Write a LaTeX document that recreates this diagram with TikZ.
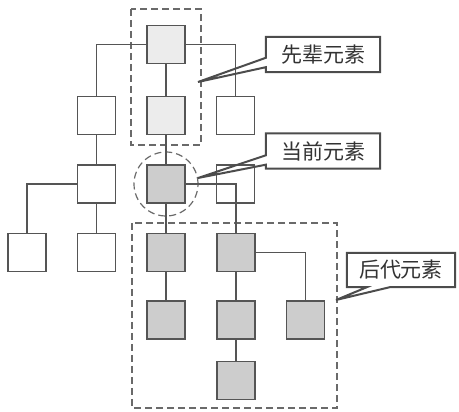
\documentclass[tikz,border=0pt]{standalone}
\usepackage{fontspec}
\newfontfamily\cjk{Noto Sans CJK SC}
\usetikzlibrary{calc}
\definecolor{ln}{HTML}{555555}
\definecolor{anc}{HTML}{ECECEC}
\definecolor{desc}{HTML}{CDCDCD}
\definecolor{dsh}{HTML}{6A6A6A}
\tikzset{
  elem/.style={draw=ln, line width=1.3pt, minimum size=38pt, inner sep=0pt, fill=white},
  ancbox/.style={elem, fill=anc},
  descbox/.style={elem, fill=desc},
  link/.style={draw=ln, line width=1.2pt},
  group/.style={draw=dsh, line width=1.2pt, dash pattern=on 7pt off 4pt},
  calltext/.style={minimum width=114pt, minimum height=35pt, inner sep=0pt, font=\cjk\fontsize{21}{21}\selectfont, text=black!80},
  callline/.style={draw=ln!90!black, line width=2pt, line join=miter},
}
\begin{document}
\begin{tikzpicture}[x=1pt,y=-1pt]
\useasboundingbox (0,0) rectangle (459,412);
% group outlines
\draw[group] (131,9) rectangle (201,145);
\draw[group] (166,184) circle (32pt);
\draw[group] (132,223) rectangle (337,408);
% elements
\node[ancbox] (top) at (166,44.5) {};
\node[elem] (r2l) at (96.5,115.5) {};
\node[ancbox] (r2m) at (166,115.5) {};
\node[elem] (r2r) at (235.5,115.5) {};
\node[elem] (r3l) at (96.5,184) {};
\node[descbox] (cur) at (166,184) {};
\node[elem] (r3r) at (235.5,184) {};
\node[elem] (r4a) at (27,252.5) {};
\node[elem] (r4b) at (96.5,252.5) {};
\node[descbox] (d4a) at (166,252.5) {};
\node[descbox] (d4b) at (236,252.5) {};
\node[descbox] (d5a) at (166,320) {};
\node[descbox] (d5b) at (236,320) {};
\node[descbox] (d5c) at (305.5,320) {};
\node[descbox] (d6) at (236,380.5) {};
% connectors
\draw[link] (top.west) -| (r2l.north);
\draw[link] (top.east) -| (r2r.north);
\draw[link] (top.south) -- (r2m.north);
\draw[link] (r2l.south) -- (r3l.north);
\draw[link] (r2m.south) -- (cur.north);
\draw[link] (r3l.west) -| (r4a.north);
\draw[link] (r3l.south) -- (r4b.north);
\draw[link] (cur.south) -- (d4a.north);
\draw[link] (cur.east) -| (d4b.north);
\draw[link] (d4a.south) -- (d5a.north);
\draw[link] (d4b.south) -- (d5b.north);
\draw[link] (d4b.east) -| (d5c.north);
\draw[link] (d5b.south) -- (d6.north);
% callouts
\node[calltext] (c1) at (323,54.5) {先辈元素};
\coordinate (p1) at (198,82);
\draw[callline] ($(c1.north west)+(0,0)$) -- (c1.north east) -- (c1.south east) -- (c1.south west)
  -- ($(c1.south west)+(0,-5)$) -- (p1) -- ($(c1.north west)+(0,21)$) -- cycle;
\node[calltext] (c2) at (323,151) {当前元素};
\coordinate (p2) at (198,178);
\draw[callline] (c2.north west) -- (c2.north east) -- (c2.south east) -- (c2.south west)
  -- ($(c2.south west)+(0,-4)$) -- (p2) -- ($(c2.north west)+(0,22)$) -- cycle;
\node[calltext, minimum width=108pt, minimum height=34pt] (c3) at (401,270) {后代元素};
\coordinate (p3) at (336,300);
\draw[callline] (c3.north west) -- (c3.north east) -- (c3.south east)
  -- ($(c3.south west)+(43,0)$) -- (p3) -- ($(c3.south west)+(20,0)$) -- (c3.south west) -- cycle;
\end{tikzpicture}
\end{document}
